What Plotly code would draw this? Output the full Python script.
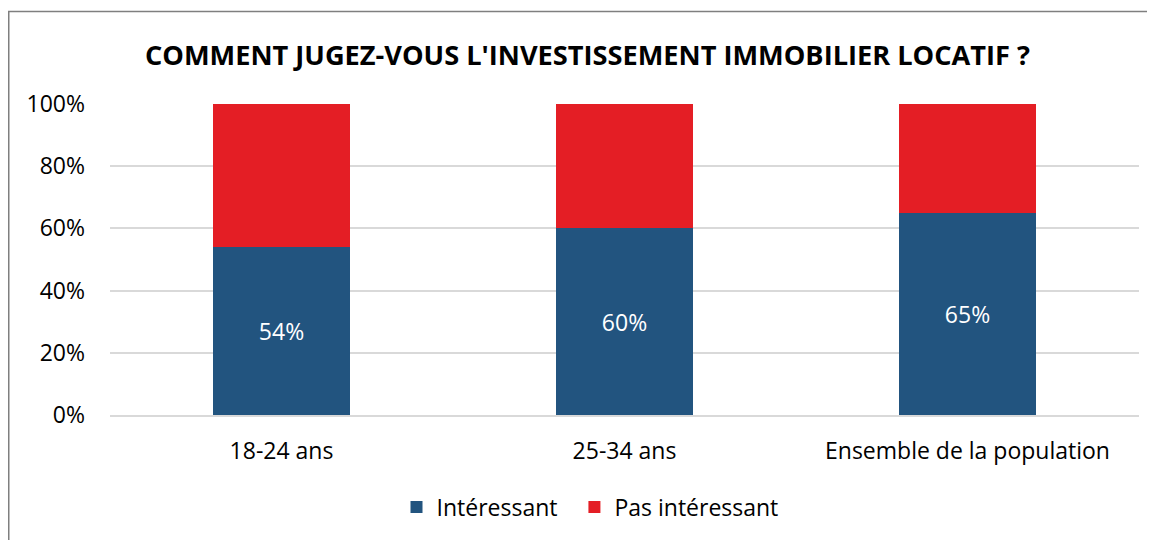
import plotly.graph_objects as go

categories = ["18-24 ans", "25-34 ans", "Ensemble de la population"]
interessant = [54, 60, 65]
pas_interessant = [46, 40, 35]
y_ticks = [0, 20, 40, 60, 80, 100]
y_tick_labels = ["0%", "20%", "40%", "60%", "80%", "100%"]
series_names = ["Intéressant", "Pas intéressant"]
title_text = "COMMENT JUGEZ-VOUS L'INVESTISSEMENT IMMOBILIER LOCATIF ?"

BLUE = "#22547F"
RED = "#E41E25"
FONT = "Open Sans"

# page body has an 8px margin: figure origin sits at screen (8, 8)
OFF = 8
W, H = 1155 - OFF, 540 - OFF
L, R, T, B = 110 - OFF, 16, 104 - OFF, 540 - 415
pw, ph = W - L - R, H - T - B


def px_x(sx):
    return (sx - OFF - L) / pw


def px_y(sy):
    return (H - B - (sy - OFF)) / ph


fig = go.Figure()
fig.add_trace(go.Bar(
    x=categories, y=interessant, name=series_names[0] + "\u00a0\u00a0",
    marker=dict(color=BLUE, line=dict(width=0)),
    text=[f"{v}%" for v in interessant], texttemplate="%{text}",
    textposition="inside", insidetextanchor="middle",
    textfont=dict(color="white", size=23, family=FONT),
))
fig.add_trace(go.Bar(
    x=categories, y=pas_interessant, name=series_names[1],
    marker=dict(color=RED, line=dict(width=0)),
    textposition="none",
))

fig.update_layout(
    width=W, height=H,
    barmode="stack", bargap=0.6,
    margin=dict(l=L, r=R, t=T, b=B, autoexpand=False),
    paper_bgcolor="white", plot_bgcolor="white",
    font=dict(family=FONT, color="#000000", size=23),
    title=dict(text="<b>" + title_text + "</b>", x=(587.5 - OFF) / W, xanchor="center",
               y=1 - (55 - OFF) / H, yanchor="middle",
               font=dict(size=27.2, family=FONT, color="#000000")),
    legend=dict(orientation="h", x=px_x(590), xanchor="center",
                y=px_y(507), yanchor="middle",
                font=dict(size=23, family=FONT), traceorder="normal",
                itemwidth=30, bgcolor="rgba(0,0,0,0)"),
    showlegend=True,
    shapes=[dict(type="rect", xref="paper", yref="paper",
                 x0=px_x(8.75), x1=px_x(1170), y0=px_y(580), y1=px_y(11.5),
                 line=dict(color="#7f7f7f", width=1.5), fillcolor="rgba(0,0,0,0)",
                 layer="below")],
)
fig.update_yaxes(range=[0, 100], tickvals=y_ticks, ticktext=y_tick_labels,
                 showgrid=True, gridcolor="#d9d9d9", gridwidth=2,
                 zeroline=False, showline=False, ticks="",
                 ticklabelstandoff=24, tickfont=dict(size=23, family=FONT))
fig.update_xaxes(showgrid=False, showline=True, linecolor="#d9d9d9", linewidth=2,
                 ticks="", ticklabelstandoff=14, tickfont=dict(size=23, family=FONT))

fig.write_html("out.html")
